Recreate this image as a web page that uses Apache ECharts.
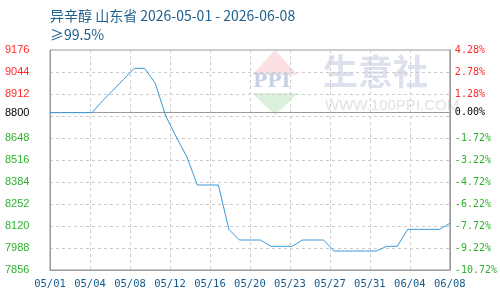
<!DOCTYPE html>
<html>
<head>
<meta charset="utf-8">
<script src="https://cdn.jsdelivr.net/npm/echarts@6/dist/echarts.min.js"></script>
<style>html,body{margin:0;padding:0;background:#fff;}#c{width:500px;height:300px;}</style>
</head>
<body>
<div id="c"></div>
<script>
var titleText = '异辛醇 山东省 2026-05-01 - 2026-06-08';
var subText = '≥99.5%';
var dates = ['05/01','05/02','05/03','05/04','05/05','05/06','05/07','05/08','05/09','05/10',
  '05/11','05/12','05/13','05/14','05/15','05/16','05/17','05/18','05/19','05/20',
  '05/21','05/22','05/23','05/24','05/25','05/26','05/27','05/28','05/29','05/30',
  '05/31','06/01','06/02','06/03','06/04','06/05','06/06','06/07','06/08'];
var prices = [8800,8800,8800,8800,8800,8872,8935,9000,9066,9066,
  8976,8780,8654,8536,8366,8366,8366,8100,8036,8036,
  8036,7998,7998,7998,8036,8036,8036,7970,7970,7970,
  7970,7970,7998,7998,8100,8100,8100,8100,8136];
var xTickLabels = ['05/01','05/04','05/08','05/12','05/16','05/20','05/23','05/27','05/31','06/04','06/08'];
var yTicks = [7856,7988,8120,8252,8384,8516,8648,8800,8912,9044,9176];
var pctLabels = ['-10.72%','-9.22%','-7.72%','-6.22%','-4.72%','-3.22%','-1.72%','0.00%','1.28%','2.78%','4.28%'];
var basePrice = 8800;

var RED = '#ff2a2a', GREEN = '#2fb02f', BLACK = '#000000';
function colorFor(v) { v = Number(v); return v > basePrice ? RED : (v === basePrice ? BLACK : GREEN); }

var seriesData = prices.map(function (p, i) { return [i, p]; });
var xStep = (dates.length - 1) / (xTickLabels.length - 1);

var chart = echarts.init(document.getElementById('c'), null, {renderer: 'canvas'});
chart.setOption({
  animation: false,
  backgroundColor: '#fff',
  title: {
    text: titleText,
    subtext: subText,
    left: 45, top: 4,
    itemGap: 5,
    textStyle: {fontSize: 14, fontWeight: 'normal', color: '#1d5f8e', fontFamily: 'Noto Sans CJK SC'},
    subtextStyle: {fontSize: 14, color: '#1d5f8e', fontFamily: 'Noto Sans CJK SC'}
  },
  graphic: [
    {type: 'polygon', z: -10, shape: {points: [[275,50],[252,75],[298,75]]}, style: {fill: '#fbe1e1'}},
    {type: 'polygon', z: -10, shape: {points: [[252,93],[298,93],[275,115]]}, style: {fill: '#dcf1dc'}},
    {type: 'text', z: -10, left: 253, top: 73, style: {text: 'PPI', fill: '#c9d1e6', font: 'bold 19px "DejaVu Serif"', letterSpacing: 4}},
    {type: 'text', z: -10, left: 323, top: 54, style: {text: '生意社', fill: '#dde1ee', font: 'bold 35px "Noto Sans CJK SC"', letterSpacing: 10}},
    {type: 'text', z: -10, left: 325, top: 98, style: {text: 'WWW.100PPI.COM', fill: '#e2e2e2', font: '15px "Liberation Sans"'}}
  ],
  grid: {left: 50, right: 50, top: 50, bottom: 30, show: true, borderColor: '#999', borderWidth: 1, backgroundColor: 'transparent', z: 0},
  xAxis: {
    type: 'value', min: 0, max: dates.length - 1, interval: xStep,
    axisLine: {show: true, lineStyle: {color: '#999'}},
    axisTick: {show: false},
    splitLine: {show: true, lineStyle: {color: '#ccc', type: [3, 3]}},
    axisLabel: {
      margin: 9, color: '#135a8c', fontSize: 10.5, fontFamily: 'DejaVu Sans Mono',
      formatter: function (v) { return xTickLabels[Math.round(v / xStep)] || ''; }
    }
  },
  yAxis: [
    {
      type: 'value', min: yTicks[0], max: yTicks[yTicks.length - 1], interval: 132,
      axisLine: {show: true, lineStyle: {color: '#999'}},
      axisTick: {show: false},
      splitLine: {show: true, lineStyle: {color: '#ccc', type: [3, 3]}},
      axisLabel: {
        customValues: yTicks,
        margin: 45, align: 'left', fontSize: 11, fontFamily: 'Liberation Sans',
        color: function (v) { return colorFor(v); },
        formatter: function (v) { return String(v); }
      }
    },
    {
      type: 'value', min: yTicks[0], max: yTicks[yTicks.length - 1], interval: 132, position: 'right',
      axisLine: {show: true, lineStyle: {color: '#999'}},
      axisTick: {show: false},
      splitLine: {show: false},
      axisLabel: {
        customValues: yTicks,
        margin: 5, align: 'left', fontSize: 10, fontFamily: 'DejaVu Sans Mono',
        color: function (v) { return colorFor(v); },
        formatter: function (v) { var i = yTicks.indexOf(Number(v)); return i >= 0 ? pctLabels[i] : ''; }
      }
    }
  ],
  series: [{
    type: 'line',
    data: seriesData,
    showSymbol: false,
    symbol: 'none',
    lineStyle: {color: '#3a98d8', width: 1},
    itemStyle: {color: '#3a98d8'},
    z: 5,
    markLine: {
      silent: true, symbol: 'none', z: 4,
      label: {show: false},
      lineStyle: {color: '#999', width: 1, type: 'solid'},
      data: [{yAxis: basePrice}]
    }
  }]
});
</script>
</body>
</html>
